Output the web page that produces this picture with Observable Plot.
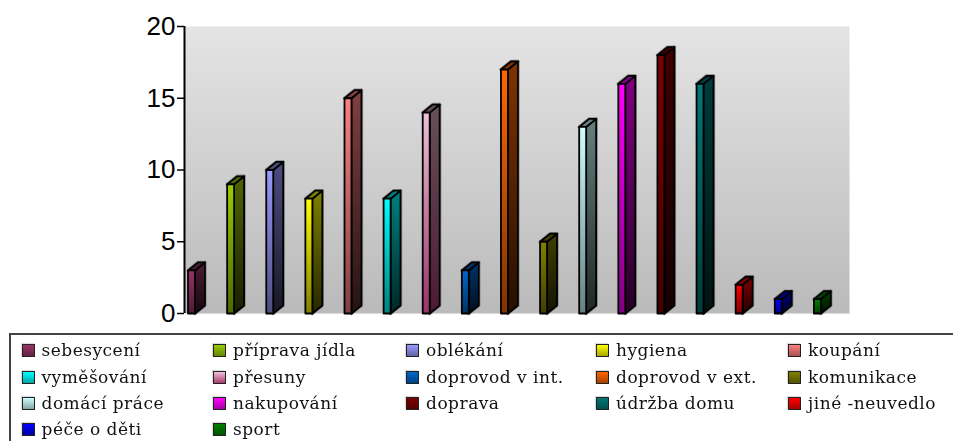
<!DOCTYPE html>
<html>
<head>
<meta charset="utf-8">
<script src="https://cdn.jsdelivr.net/npm/d3@7"></script>
<script src="https://cdn.jsdelivr.net/npm/@observablehq/plot@0.6"></script>
<style>
html,body{margin:0;padding:0;background:#fff;overflow:hidden}
#chart svg{display:block}
#legend{position:absolute;left:9px;top:333px;width:944px;height:108px;box-sizing:border-box;border-top:2.5px solid #444;border-left:2.5px solid #444;
font-family:"DejaVu Serif",serif;font-size:17px;letter-spacing:0.5px;color:#111}
.it{position:absolute;display:flex;align-items:center;white-space:nowrap;height:20px}
.sw{width:11px;height:11px;border:1.5px solid #222;margin-right:7px;box-shadow:-1px -1px 1px #ddd;flex:none}
.tx{filter:blur(0.35px)}
</style>
</head>
<body>
<div id="chart"></div>
<div id="legend"></div>
<script>
const categories = ["sebesycení","příprava jídla","oblékání","hygiena","koupání","vyměšování","přesuny","doprovod v int.","doprovod v ext.","komunikace","domácí práce","nakupování","doprava","údržba domu","jiné -neuvedlo","péče o děti","sport"];
const values = [3,9,10,8,15,8,14,3,17,5,13,16,18,16,2,1,1];
const colors = ["#993366","#99cc00","#9999ff","#ffff00","#ff8080","#00ffff","#f0c0d8","#0066cc","#ff6600","#808000","#ccffff","#ff00ff","#800000","#007878","#ff0000","#0000ff","#008000"];
const yTicks = [0,5,10,15,20];

const frontW = 0.178, sideW = 0.255, depth = 0.56, lead = 0.09;
const bars = categories.map((c,i)=>({c,i,v:values[i],col:colors[i]}));
const poly = (kind) => bars.flatMap(b=>{
  const a=b.i+lead, f=a+frontW, s=f+sideW, v=b.v;
  const pts = kind==="front" ? [[a,0],[f,0],[f,v],[a,v]]
    : kind==="side" ? [[f,0],[s,depth],[s,v+depth],[f,v]]
    : [[a,v],[f,v],[s,v+depth],[a+sideW,v+depth]];
  return pts.map(([x,y])=>({x,y,i:b.i}));
});
const mix=(c,k,to="#000")=>d3.interpolateRgb(c,to)(k);
const frontEnd=b=>b.i===6?"#993366":mix(b.col,0.5);
const sideEnd=b=>b.i===6?"#4d1a33":mix(b.col,0.85);
const sideStart=b=>b.i===6?"#665058":mix(b.col,0.5);

const defs = () => {
  const svg = d3.create("svg:defs");
  const grad=(id,stops)=>{
    const g=svg.append("linearGradient").attr("id",id).attr("x1",0).attr("y1",0).attr("x2",0).attr("y2",1);
    stops.forEach(([o,c])=>g.append("stop").attr("offset",o).attr("stop-color",c));
  };
  grad("bg",[[0,"#e4e4e4"],[1,"#bababa"]]);
  bars.forEach(b=>{
    grad("f"+b.i,[[0,b.col],[1,frontEnd(b)]]);
    grad("s"+b.i,[[0,sideStart(b)],[1,sideEnd(b)]]);
  });
  return svg.node();
};

const face = (kind,fillFn)=>Plot.line(poly(kind),{x:"x",y:"y",z:"i",curve:"linear-closed",fill:d=>fillFn(d.i),stroke:"#000",strokeWidth:1.8,strokeLinejoin:"round"});
const halo = (kind)=>Plot.line(poly(kind),{x:"x",y:"y",z:"i",curve:"linear-closed",fill:"none",stroke:"#8a8a8a",strokeWidth:3.4,strokeLinejoin:"round"});

const chart = Plot.plot({
  width:953,height:333,
  marginLeft:184,marginRight:104,marginTop:26,marginBottom:20,
  x:{domain:[0,17],axis:null},
  y:{domain:[0,20]},
  marks:[
    defs,
    Plot.frame({fill:"url(#bg)",stroke:"none"}),
    halo("side"),
    halo("top"),
    face("side",i=>`url(#s${i})`),
    face("top",i=>sideStart(bars[i])),
    face("front",i=>`url(#f${i})`),
    Plot.axisY({ticks:yTicks,label:null,tickSize:7,tickPadding:2,fontSize:26,stroke:"#000",strokeWidth:1.5,fontFamily:"Liberation Sans",color:"#000"}),
    Plot.ruleX([0],{stroke:"#000",strokeWidth:2})
  ]
});
chart.style.fontFamily="Liberation Sans";
document.getElementById("chart").append(chart);

const colX=[10.5,202,395,585,777], rowY=[5,32,58,84];
const lg=document.getElementById("legend");
categories.forEach((c,i)=>{
  const it=document.createElement("div");it.className="it";
  it.style.left=colX[i%5]+"px";it.style.top=rowY[Math.floor(i/5)]+"px";
  const s=document.createElement("span");s.className="sw";
  s.style.background=`linear-gradient(${colors[i]},${i===6?"#a83a70":mix(colors[i],0.35)})`;
  const t=document.createElement("span");t.className="tx";t.textContent=c;
  it.append(s,t);
  lg.append(it);
});
</script>
</body>
</html>
